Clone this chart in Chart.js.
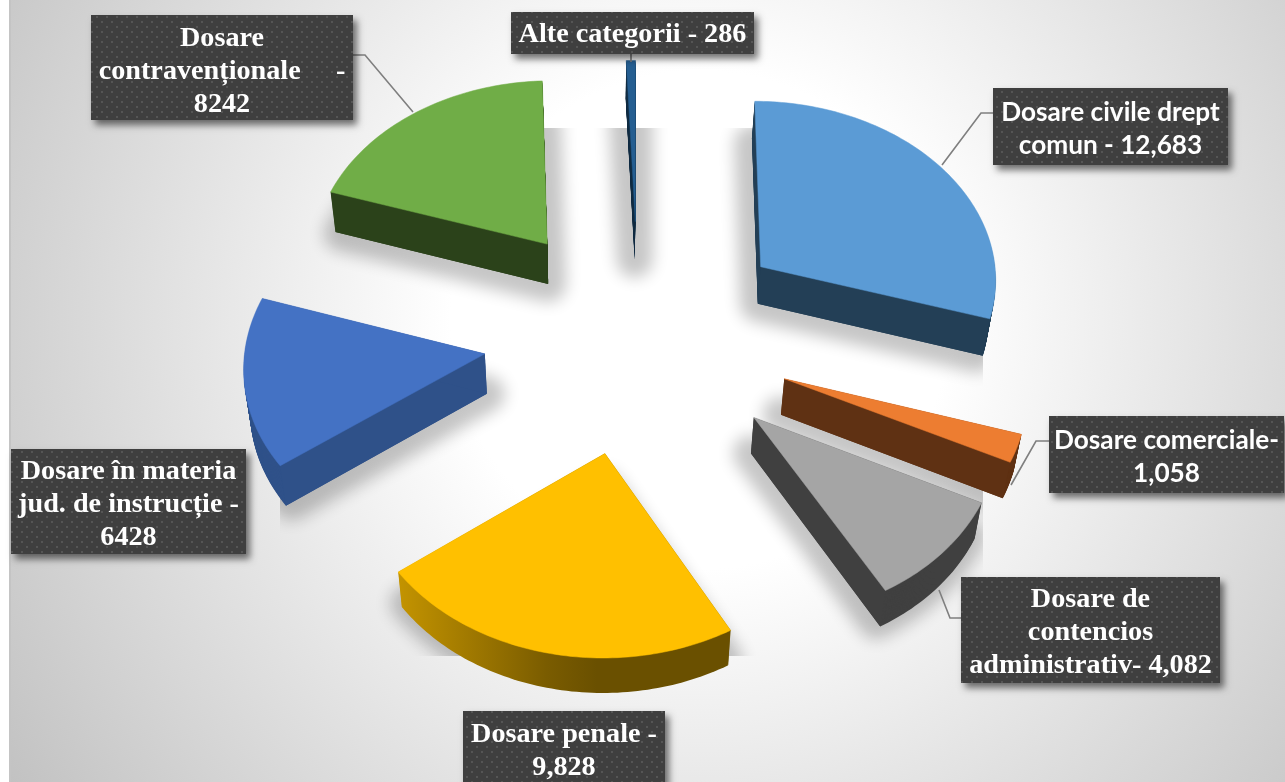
<!DOCTYPE html>
<html>
<head>
<meta charset="utf-8">
<style>html,body{margin:0;padding:0;background:#fff}canvas{display:block}</style>
<script src="https://cdn.jsdelivr.net/npm/chart.js@4"></script>
</head>
<body>
<canvas id="c" width="1285" height="782"></canvas>
<script>
const categories = ["Dosare civile drept comun","Dosare comerciale","Dosare de contencios administrativ","Dosare penale","Dosare în materia jud. de instrucție","Dosare contravenționale","Alte categorii"];
const values = [12683,1058,4082,9828,6428,8242,286];
const topColors = ["#5b9bd5","#ed7d31","#a5a5a5","#ffc000","#4472c4","#70ad47","#255e91"];
const sideColors = ["#233f56","#5f3113","#404040","GOLD","#2f5189","#2b421a","#0f2a40"];
const explodeRatio = [0.648,0.648,0.648,0.648,0.648,0.648,0.648];
const sliceDepth = [37,36,36,35,40,40,38];
const labelLines = [
  ["Dosare civile drept","comun - 12,683"],
  ["Dosare comerciale-","1,058"],
  ["Dosare de","contencios","administrativ- 4,082"],
  ["Dosare penale -","9,828"],
  ["Dosare în materia","jud. de instrucție -","6428"],
  ["Dosare","contravenționale     -","8242"],
  ["Alte categorii - 286"]
];
const labelFonts = ["sans","sans","serif","serif","serif","serif","serif"];
const labelBoxes = [[993,88,235,77],[1049,416,235,77],[961,577,259,106],[463,711,202,90],[11,449,235,105],[91,15,262,105],[511,12,243,42]];
const labelMid = [128,456,631,749,503,70,33];
const leaders = [
  [[993,113],[981,113],[942,165]],
  [[1049,441],[1036,441],[1011,485]],
  [[961,618],[950,618],[939,590]],
  [],
  [],
  [[353,55],[365,55],[413,112]],
  [[631,54],[631,62]]
];
const TILT = 0.757, PERSP = 0.052, SHRINK = 0.018, SHRINK_SHIFT = 40;

function project(arc, u, v, frac, depth){
  const R = arc.outerRadius, w = 1 - PERSP*v;
  const k = 1 - SHRINK*frac, cx = arc.x - SHRINK_SHIFT;
  const x = arc.x + R*u/w;
  return [cx + (x-cx)*k, arc.y + R*TILT*v/w + depth*frac];
}
function sliceGeom(arc, E){
  const a0 = arc.startAngle + Math.PI/2, a1 = arc.endAngle + Math.PI/2, mid = (a0+a1)/2;
  return {a0, a1, eu:E*Math.sin(mid), ev:-E*Math.cos(mid)};
}
function slicePath(ctx, arc, E, frac, depth, rimScale){
  const {a0,a1,eu,ev} = sliceGeom(arc,E);
  const r = rimScale===undefined ? 1 : rimScale;
  ctx.beginPath();
  let p = project(arc, eu, ev, frac, depth);
  ctx.moveTo(p[0], p[1]);
  const n = Math.max(2, Math.ceil((a1-a0)/0.02));
  for(let i=0;i<=n;i++){
    const t = a0 + (a1-a0)*i/n;
    p = project(arc, eu+r*Math.sin(t), ev-r*Math.cos(t), frac, depth);
    ctx.lineTo(p[0], p[1]);
  }
  ctx.closePath();
}
function wallPath(ctx, arc, E, depth, angle){
  const {eu,ev} = sliceGeom(arc,E);
  const pts = [project(arc,eu,ev,0,depth),
    project(arc,eu+Math.sin(angle),ev-Math.cos(angle),0,depth),
    project(arc,eu+Math.sin(angle),ev-Math.cos(angle),1,depth),
    project(arc,eu,ev,1,depth)];
  ctx.beginPath();
  pts.forEach((p,i)=> i? ctx.lineTo(p[0],p[1]) : ctx.moveTo(p[0],p[1]));
  ctx.closePath();
}
const pie3d = {
  id:'pie3d',
  beforeDraw(chart){
    const ctx = chart.ctx, W = chart.width, H = chart.height;
    ctx.save();
    ctx.fillStyle = '#fff'; ctx.fillRect(0,0,W,H);
    const g = ctx.createRadialGradient(700,320,0,700,320,830);
    g.addColorStop(0,'#ffffff'); g.addColorStop(0.3,'#ffffff'); g.addColorStop(1,'#c2c2c2');
    ctx.fillStyle = g; ctx.fillRect(10,0,W-10,H);
    ctx.fillStyle = '#c4c4c4'; ctx.fillRect(9,0,2,H);
    ctx.restore();
  },
  beforeDatasetsDraw(chart){
    const ctx = chart.ctx, meta = chart.getDatasetMeta(0);
    const arcs = meta.data.map((a,i)=>({a,i,mid:-Math.cos((a.startAngle+a.endAngle)/2+Math.PI/2)}));
    const tmp = document.createElement('canvas'); tmp.width = chart.width; tmp.height = chart.height;
    const tc = tmp.getContext('2d');
    tc.filter = 'blur(8px)'; tc.fillStyle = '#000'; tc.strokeStyle = '#000'; tc.lineWidth = 36; tc.lineJoin='round';
    arcs.forEach(o=>{
      slicePath(tc,o.a,explodeRatio[o.i],1,sliceDepth[o.i],0.97); tc.fill(); tc.stroke();
    });
    ctx.save();
    ctx.beginPath(); ctx.rect(280,128,703,528); ctx.clip();
    ctx.globalAlpha = 0.22;
    ctx.drawImage(tmp,0,0);
    ctx.restore();
    arcs.sort((p,q)=>p.mid-q.mid).forEach(o=>{
      const E = explodeRatio[o.i], D = sliceDepth[o.i], arc = o.a;
      let side = sideColors[o.i];
      if(side==='GOLD'){
        const gr = ctx.createLinearGradient(397,0,730,0);
        gr.addColorStop(0,'#c49400'); gr.addColorStop(0.45,'#7a5c00'); gr.addColorStop(0.6,'#6a5000'); gr.addColorStop(1,'#6a5000');
        side = gr;
      }
      ctx.fillStyle = side;
      for(let f=D;f>0;f--){ slicePath(ctx,arc,E,f/D,D); ctx.fill(); }
      const g = sliceGeom(arc,E);
      [g.a0,g.a1].forEach(t=>{ wallPath(ctx,arc,E,D,t); ctx.fill(); });
      slicePath(ctx,arc,E,0,D);
      ctx.fillStyle = topColors[o.i];
      ctx.strokeStyle = topColors[o.i];
      ctx.lineWidth = 0.5;
      ctx.fill();
      ctx.stroke();
    });
    return false;
  },
  afterDraw(chart){
    const ctx = chart.ctx;
    const pc = document.createElement('canvas'); pc.width = 10; pc.height = 10;
    const px = pc.getContext('2d');
    px.fillStyle = '#3f3f3f'; px.fillRect(0,0,10,10);
    px.fillStyle = '#555555';
    px.fillRect(1,1,2,2); px.fillRect(6,6,2,2);
    const pat = ctx.createPattern(pc,'repeat');
    ctx.save();
    ctx.strokeStyle = '#7f7f7f'; ctx.lineWidth = 1.6;
    leaders.forEach(l=>{
      if(!l.length) return;
      ctx.beginPath(); l.forEach((p,i)=> i? ctx.lineTo(p[0],p[1]) : ctx.moveTo(p[0],p[1])); ctx.stroke();
    });
    labelBoxes.forEach((b,i)=>{
      ctx.save();
      ctx.shadowColor = 'rgba(0,0,0,0.55)'; ctx.shadowBlur = 7; ctx.shadowOffsetX = 4; ctx.shadowOffsetY = 5;
      ctx.fillStyle = '#3f3f3f'; ctx.fillRect(b[0],b[1],b[2],b[3]);
      ctx.restore();
      ctx.fillStyle = pat; ctx.fillRect(b[0],b[1],b[2],b[3]);
      const sans = labelFonts[i]==='sans';
      ctx.font = sans ? 'bold 26.2px Lato' : 'bold 28.2px "Liberation Serif"';
      ctx.fillStyle = '#fff'; ctx.textAlign = 'center'; ctx.textBaseline = 'middle';
      const lines = labelLines[i], lh = 33;
      const cx = b[0]+b[2]/2;
      const top = labelMid[i]-(lines.length-1)*lh/2 + (sans ? 1 : 2);
      lines.forEach((t,k)=> ctx.fillText(t,cx,top+k*lh));
    });
    ctx.restore();
  }
};
new Chart(document.getElementById('c'),{
  type:'pie',
  data:{labels:categories,datasets:[{data:values,backgroundColor:topColors,borderWidth:0}]},
  options:{
    responsive:false,animation:false,
    layout:{padding:{left:0,right:8,top:96,bottom:208}},
    plugins:{legend:{display:false},tooltip:{enabled:false}}
  },
  plugins:[pie3d]
});
</script>
</body>
</html>
